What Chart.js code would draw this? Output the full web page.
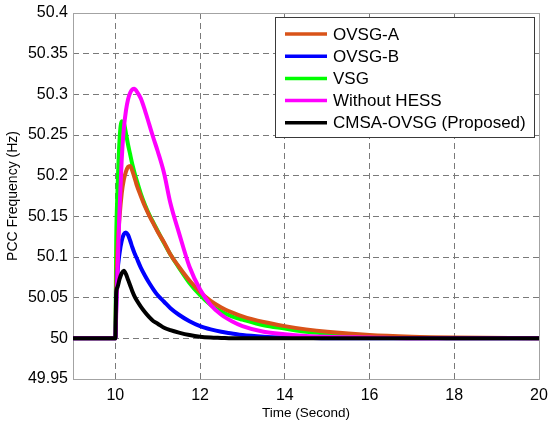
<!DOCTYPE html>
<html>
<head>
<meta charset="utf-8">
<script src="https://cdn.jsdelivr.net/npm/chart.js@4/dist/chart.umd.min.js"></script>
<style>
  body { margin: 0; background: #fff; }
  #c { display: block; }
</style>
</head>
<body>
<canvas id="c" width="550" height="423"></canvas>
<script>
// time (s) and PCC frequency (Hz)
const t = [9, 10, 10.02, 10.05, 10.1, 10.15, 10.2, 10.25, 10.3, 10.35, 10.4, 10.45, 10.5, 10.6, 10.7, 10.8, 10.9, 11, 11.15, 11.3, 11.5, 11.75, 12, 12.25, 12.5, 12.75, 13, 13.5, 14, 14.5, 15, 16, 17, 18, 20];
const ovsgA = [50, 50, 50.06, 50.11, 50.15, 50.178, 50.195, 50.205, 50.211, 50.212, 50.206, 50.198, 50.189, 50.175, 50.162, 50.151, 50.141, 50.131, 50.118, 50.103, 50.088, 50.071, 50.057, 50.046, 50.038, 50.032, 50.027, 50.02, 50.015, 50.011, 50.008, 50.004, 50.002, 50.001, 50];
const ovsgB = [50, 50, 50.04, 50.08, 50.105, 50.12, 50.128, 50.13, 50.127, 50.12, 50.112, 50.105, 50.099, 50.087, 50.077, 50.068, 50.06, 50.053, 50.045, 50.037, 50.029, 50.021, 50.015, 50.011, 50.008, 50.006, 50.004, 50.002, 50.001, 50.0005, 50, 50, 50, 50, 50];
const vsg = [50, 50, 50.12, 50.18, 50.245, 50.267, 50.265, 50.252, 50.238, 50.226, 50.214, 50.204, 50.195, 50.178, 50.164, 50.152, 50.142, 50.132, 50.117, 50.103, 50.087, 50.068, 50.053, 50.041, 50.033, 50.027, 50.023, 50.016, 50.012, 50.008, 50.006, 50.003, 50.001, 50, 50];
const noHess = [50, 50, 50.03, 50.08, 50.16, 50.22, 50.258, 50.28, 50.294, 50.302, 50.306, 50.307, 50.304, 50.295, 50.28, 50.263, 50.246, 50.23, 50.203, 50.166, 50.13, 50.088, 50.06, 50.041, 50.029, 50.021, 50.015, 50.008, 50.005, 50.003, 50.002, 50.001, 50, 50, 50];
const cmsa = [50, 50, 50.055, 50.063, 50.073, 50.08, 50.083, 50.079, 50.072, 50.065, 50.058, 50.052, 50.047, 50.039, 50.032, 50.026, 50.021, 50.018, 50.013, 50.01, 50.007, 50.004, 50.002, 50.001, 50.0005, 50, 50, 50, 50, 50, 50, 50, 50, 50, 50];

const labels = ['OVSG-A', 'OVSG-B', 'VSG', 'Without HESS', 'CMSA-OVSG (Proposed)'];
const xTicks = [10, 12, 14, 16, 18, 20];
const yTicks = [49.95, 50, 50.05, 50.1, 50.15, 50.2, 50.25, 50.3, 50.35, 50.4];

const FONT = 'Arial, "Liberation Sans", sans-serif';

function pts(arr) {
    return arr.map((v, i) => ({ x: t[i], y: v }));
}

function mkSet(label, data, color, order) {
    return {
        label: label,
        data: pts(data),
        borderColor: color,
        backgroundColor: color,
        borderWidth: 4,
        pointRadius: 0,
        fill: false,
        cubicInterpolationMode: 'monotone',
        borderJoinStyle: 'round',
        borderCapStyle: 'round',
        order: order,
    };
}

// plot frame, drawn over the grid
const frame = {
    id: 'frame',
    beforeDatasetsDraw(chart) {
        let a = chart.chartArea;
        let ctx = chart.ctx;
        ctx.save();
        ctx.strokeStyle = '#a3a3a3';
        ctx.lineWidth = 1;
        ctx.setLineDash([]);
        ctx.strokeRect(Math.round(a.left) + 0.5, Math.round(a.top) + 0.5, Math.round(a.right - a.left), Math.round(a.bottom - a.top));
        ctx.restore();
    }
};

// boxed legend inside the plot, top right
const legendBox = {
    id: 'legendBox',
    afterDraw(chart) {
        let a = chart.chartArea;
        let ctx = chart.ctx;
        let x0 = Math.round(a.right) - 264;
        let y0 = Math.round(a.top) + 4;
        let w = 259, h = 120;
        ctx.save();
        ctx.fillStyle = '#fff';
        ctx.fillRect(x0, y0, w, h);
        ctx.strokeStyle = '#3a3a3a';
        ctx.lineWidth = 1;
        ctx.strokeRect(x0 + 0.5, y0 + 0.5, w, h);
        ctx.font = '17px ' + FONT;
        ctx.textBaseline = 'middle';
        chart.data.datasets.forEach((ds, i) => {
            let y = y0 + 17 + i * 22.2;
            ctx.strokeStyle = ds.borderColor;
            ctx.lineWidth = 3.5;
            ctx.beginPath();
            ctx.moveTo(x0 + 10, y);
            ctx.lineTo(x0 + 52, y);
            ctx.stroke();
            ctx.fillStyle = '#000';
            ctx.fillText(ds.label, x0 + 58, y + 1);
        });
        ctx.restore();
    }
};

var chart = new Chart(document.getElementById('c'), {
    type: 'line',
    data: {
        datasets: [
            mkSet(labels[0], ovsgA, '#d95319', 3),
            mkSet(labels[1], ovsgB, '#0000ff', 2),
            mkSet(labels[2], vsg, '#00ff00', 4),
            mkSet(labels[3], noHess, '#ff00ff', 1),
            mkSet(labels[4], cmsa, '#000000', 0),
        ],
    },
    options: {
        responsive: false,
        animation: false,
        layout: { padding: { left: 0, right: 11, top: 13, bottom: 0 } },
        plugins: {
            legend: { display: false },
            tooltip: { enabled: false },
        },
        scales: {
            x: {
                type: 'linear',
                min: 9,
                max: 20,
                afterBuildTicks: (s) => { s.ticks = xTicks.map(v => ({ value: v })); },
                afterFit: (s) => { s.height = 44; s.paddingLeft = 0; s.paddingRight = 0; },
                grid: { color: '#7a7a7a', lineWidth: 1, drawTicks: false },
                border: { display: false, dash: [6, 4] },
                ticks: {
                    padding: 7,
                    maxRotation: 0,
                    color: '#000',
                    font: { family: FONT, size: 16 },
                    callback: (v) => String(v),
                },
                title: {
                    display: true,
                    text: 'Time (Second)',
                    color: '#000',
                    font: { family: FONT, size: 13.5 },
                    padding: { top: 0, bottom: 2 },
                },
            },
            y: {
                min: 49.95,
                max: 50.4,
                afterBuildTicks: (s) => { s.ticks = yTicks.map(v => ({ value: v })); },
                afterFit: (s) => { s.width = 73; s.paddingTop = 0; s.paddingBottom = 0; },
                grid: { color: '#7a7a7a', lineWidth: 1, drawTicks: false },
                border: { display: false, dash: [6, 4] },
                ticks: {
                    padding: 5,
                    color: '#000',
                    font: { family: FONT, size: 16 },
                    callback: (v) => String(parseFloat(Number(v).toFixed(2))),
                },
                title: {
                    display: true,
                    text: 'PCC Frequency (Hz)',
                    color: '#000',
                    font: { family: FONT, size: 14 },
                    padding: { top: 5, bottom: 0 },
                },
            },
        },
    },
    plugins: [frame, legendBox],
});
</script>
</body>
</html>
